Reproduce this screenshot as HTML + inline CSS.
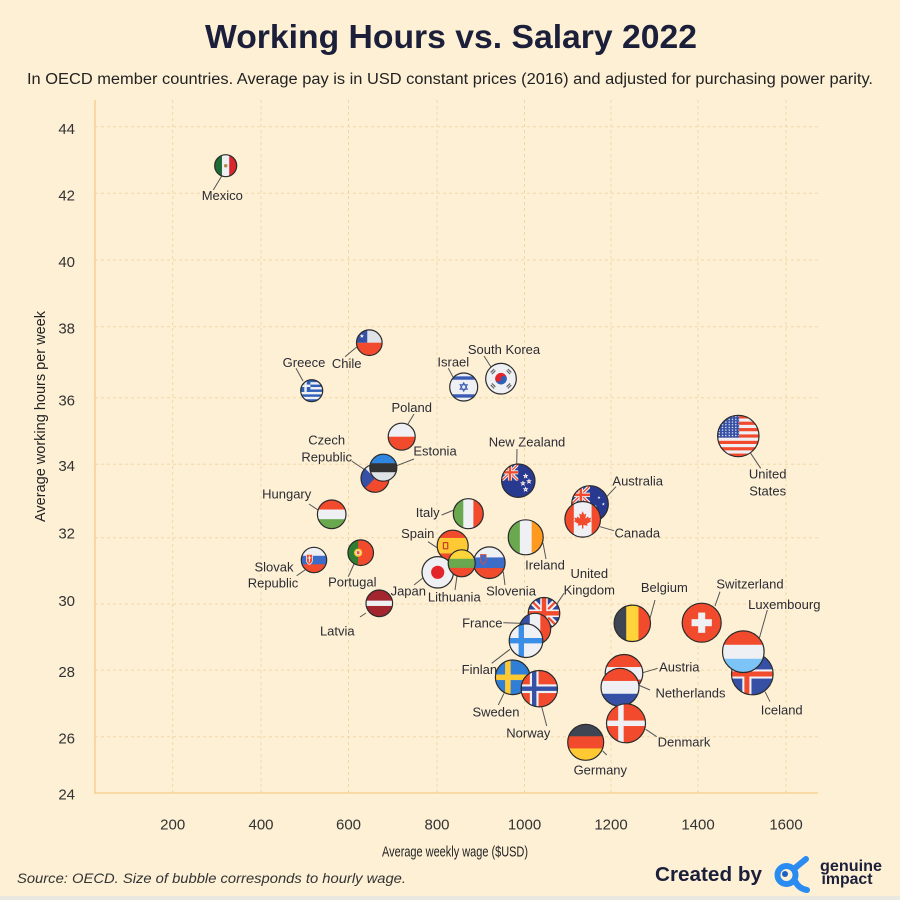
<!DOCTYPE html>
<html><head><meta charset="utf-8"><style>
html,body{margin:0;padding:0;background:#fdf0d5;}
svg{display:block;font-family:"Liberation Sans",sans-serif;}
.lb{font-size:13px;fill:#2b2b33;text-anchor:middle;}
.tk{font-size:15px;fill:#333;text-anchor:middle;}
.ty{font-size:15px;fill:#333;text-anchor:end;}
.ld{stroke:#555;stroke-width:1;fill:none;}
.bd{fill:none;stroke:#2b2b2b;stroke-width:1.2;}
</style></head><body>
<svg width="900" height="900" viewBox="0 0 900 900" xmlns="http://www.w3.org/2000/svg" xmlns:xlink="http://www.w3.org/1999/xlink">
<defs>
<clipPath id="cc" clipPathUnits="userSpaceOnUse"><circle cx="50" cy="50" r="50"/></clipPath>
<symbol id="star" viewBox="-1 -1 2 2"><polygon points="0,-1 0.225,-0.309 0.951,-0.309 0.363,0.118 0.588,0.809 0,0.382 -0.588,0.809 -0.363,0.118 -0.951,-0.309 -0.225,-0.309" fill="#fff"/></symbol>
<symbol id="rstar" viewBox="-1.3 -1.3 2.6 2.6"><polygon points="0,-1 0.225,-0.309 0.951,-0.309 0.363,0.118 0.588,0.809 0,0.382 -0.588,0.809 -0.363,0.118 -0.951,-0.309 -0.225,-0.309" fill="#f24a2c" stroke="#fff" stroke-width="0.35"/></symbol>
<symbol id="uj" viewBox="0 0 100 100"><rect width="100" height="100" fill="#2f4496"/><path d="M0,0L100,100M100,0L0,100" stroke="#eef0f3" stroke-width="20"/><path d="M0,0L100,100M100,0L0,100" stroke="#f24a2c" stroke-width="7"/><rect x="38" y="0" width="24" height="100" fill="#eef0f3"/><rect x="0" y="38" width="100" height="24" fill="#eef0f3"/><rect x="43" y="0" width="14" height="100" fill="#f24a2c"/><rect x="0" y="43" width="100" height="14" fill="#f24a2c"/></symbol>
<pattern id="usd" width="8" height="6.5" patternUnits="userSpaceOnUse"><circle cx="4" cy="3.2" r="1.7" fill="#fff"/></pattern>

<symbol id="f-mx" viewBox="0 0 100 100"><g clip-path="url(#cc)"><rect width="34" height="100" fill="#1e6b36"/><rect x="33" width="34" height="100" fill="#eef0f3"/><rect x="66" width="34" height="100" fill="#d8262d"/><circle cx="50" cy="50" r="8" fill="#b3894a"/></g></symbol>
<symbol id="f-cl" viewBox="0 0 100 100"><g clip-path="url(#cc)"><rect width="100" height="100" fill="#f24a2c"/><rect width="100" height="50" fill="#dfe2e6"/><rect width="42" height="50" fill="#3550a5"/><use href="#star" x="12" y="15" width="18" height="18"/></g></symbol>
<symbol id="f-gr" viewBox="0 0 100 100"><g clip-path="url(#cc)"><rect width="100" height="100" fill="#eef0f3"/><rect y="0" width="100" height="11.1" fill="#2f5fb8"/><rect y="22.2" width="100" height="11.1" fill="#2f5fb8"/><rect y="44.4" width="100" height="11.1" fill="#2f5fb8"/><rect y="66.6" width="100" height="11.1" fill="#2f5fb8"/><rect y="88.8" width="100" height="11.2" fill="#2f5fb8"/><rect width="44" height="55.5" fill="#2f5fb8"/><rect y="22.2" width="44" height="11.1" fill="#eef0f3"/><rect x="16.5" width="11" height="55.5" fill="#eef0f3"/></g></symbol>
<symbol id="f-il" viewBox="0 0 100 100"><g clip-path="url(#cc)"><rect width="100" height="100" fill="#eef0f3"/><rect y="12" width="100" height="12" fill="#3a5bb5"/><rect y="76" width="100" height="12" fill="#3a5bb5"/><polygon points="50,35 63,58 37,58" fill="none" stroke="#3a5bb5" stroke-width="3.5"/><polygon points="50,65 63,42 37,42" fill="none" stroke="#3a5bb5" stroke-width="3.5"/></g></symbol>
<symbol id="f-kr" viewBox="0 0 100 100"><g clip-path="url(#cc)"><rect width="100" height="100" fill="#eef0f3"/><path d="M31,50A19,19 0 0 1 69,50Z" fill="#e3242b"/><path d="M31,50A19,19 0 0 0 69,50Z" fill="#2f5fb8"/><circle cx="40.5" cy="50" r="9.5" fill="#e3242b"/><circle cx="59.5" cy="50" r="9.5" fill="#2f5fb8"/><g fill="#666"><rect x="14" y="22" width="16" height="4" transform="rotate(-45 22 24)"/><rect x="18" y="27" width="16" height="4" transform="rotate(-45 26 29)"/><rect x="70" y="22" width="16" height="4" transform="rotate(45 78 24)"/><rect x="66" y="27" width="16" height="4" transform="rotate(45 74 29)"/><rect x="14" y="74" width="16" height="4" transform="rotate(45 22 76)"/><rect x="18" y="69" width="16" height="4" transform="rotate(45 26 71)"/><rect x="70" y="74" width="16" height="4" transform="rotate(-45 78 76)"/><rect x="66" y="69" width="16" height="4" transform="rotate(-45 74 71)"/></g></g></symbol>
<symbol id="f-pl" viewBox="0 0 100 100"><g clip-path="url(#cc)"><rect width="100" height="100" fill="#f24a2c"/><rect width="100" height="50" fill="#eef0f3"/></g></symbol>
<symbol id="f-cz" viewBox="0 0 100 100"><g clip-path="url(#cc)"><rect width="100" height="100" fill="#f24a2c"/><rect width="100" height="50" fill="#eef0f3"/><polygon points="0,0 50,50 0,100" fill="#3550a5"/></g></symbol>
<symbol id="f-ee" viewBox="0 0 100 100"><g clip-path="url(#cc)"><rect width="100" height="100" fill="#dfe2e6"/><rect width="100" height="34" fill="#2f86e0"/><rect y="33.3" width="100" height="33.4" fill="#333"/></g></symbol>
<symbol id="f-nz" viewBox="0 0 100 100"><g clip-path="url(#cc)"><rect width="100" height="100" fill="#283a8f"/><use href="#uj" x="0" y="0" width="50" height="50"/><use href="#rstar" x="64" y="28" width="16" height="16"/><use href="#rstar" x="74" y="44" width="16" height="16"/><use href="#rstar" x="56" y="50" width="16" height="16"/><use href="#rstar" x="64" y="68" width="16" height="16"/></g></symbol>
<symbol id="f-hu" viewBox="0 0 100 100"><g clip-path="url(#cc)"><rect width="100" height="100" fill="#6aa84f"/><rect width="100" height="67" fill="#eef0f3"/><rect width="100" height="33.3" fill="#f24a2c"/></g></symbol>
<symbol id="f-it" viewBox="0 0 100 100"><g clip-path="url(#cc)"><rect width="100" height="100" fill="#f24a2c"/><rect width="67" height="100" fill="#eef0f3"/><rect width="33.3" height="100" fill="#6aa84f"/></g></symbol>
<symbol id="f-au" viewBox="0 0 100 100"><g clip-path="url(#cc)"><rect width="100" height="100" fill="#283a8f"/><use href="#uj" x="0" y="0" width="50" height="50"/><use href="#star" x="15" y="62" width="18" height="18"/><use href="#star" x="70" y="28" width="9" height="9"/><use href="#star" x="82" y="46" width="9" height="9"/><use href="#star" x="60" y="52" width="9" height="9"/><use href="#star" x="70" y="76" width="10" height="10"/></g></symbol>
<symbol id="f-ca" viewBox="0 0 100 100"><g clip-path="url(#cc)"><rect width="100" height="100" fill="#eef0f3"/><rect width="25" height="100" fill="#f24a2c"/><rect x="75" width="25" height="100" fill="#f24a2c"/><polygon points="50,27 54,37 60,34 57,48 65,42 67,47 74,45 71,53 75,55 62,63 64,68 52,66 52,76 48,76 48,66 36,68 38,63 25,55 29,53 26,45 33,47 35,42 43,48 40,34 46,37" fill="#f24a2c"/></g></symbol>
<symbol id="f-us" viewBox="0 0 100 100"><g clip-path="url(#cc)"><rect width="100" height="100" fill="#eef0f3"/><g fill="#f24a2c"><rect y="0" width="100" height="7.7"/><rect y="15.4" width="100" height="7.7"/><rect y="30.8" width="100" height="7.7"/><rect y="46.2" width="100" height="7.7"/><rect y="61.6" width="100" height="7.7"/><rect y="77" width="100" height="7.7"/><rect y="92.4" width="100" height="7.7"/></g><rect width="52" height="54" fill="#3550a5"/><rect width="52" height="54" fill="url(#usd)"/></g></symbol>
<symbol id="f-ie" viewBox="0 0 100 100"><g clip-path="url(#cc)"><rect width="100" height="100" fill="#ff9a1f"/><rect width="67" height="100" fill="#eef0f3"/><rect width="33.3" height="100" fill="#6aa84f"/></g></symbol>
<symbol id="f-es" viewBox="0 0 100 100"><g clip-path="url(#cc)"><rect width="100" height="100" fill="#f24a2c"/><rect y="25" width="100" height="50" fill="#ffc933"/><rect x="18" y="38" width="18" height="24" rx="3" fill="#c8412a"/><rect x="22" y="42" width="10" height="16" fill="#ffc933"/></g></symbol>
<symbol id="f-sk" viewBox="0 0 100 100"><g clip-path="url(#cc)"><rect width="100" height="100" fill="#f24a2c"/><rect width="100" height="67" fill="#3a6cc8"/><rect width="100" height="33.3" fill="#eef0f3"/><path d="M20,28H44V50Q44,62 32,68Q20,62 20,50Z" fill="#f24a2c" stroke="#eef0f3" stroke-width="3"/><rect x="30" y="33" width="4" height="26" fill="#eef0f3"/><rect x="25" y="40" width="14" height="4" fill="#eef0f3"/></g></symbol>
<symbol id="f-pt" viewBox="0 0 100 100"><g clip-path="url(#cc)"><rect width="100" height="100" fill="#f24a2c"/><rect width="40" height="100" fill="#2e7d32"/><circle cx="40" cy="50" r="16" fill="#ffc933"/><circle cx="40" cy="50" r="10" fill="#eef0f3"/><rect x="35" y="44" width="10" height="12" fill="#f24a2c"/></g></symbol>
<symbol id="f-jp" viewBox="0 0 100 100"><g clip-path="url(#cc)"><rect width="100" height="100" fill="#eef0f3"/><circle cx="50" cy="50" r="21" fill="#e3242b"/></g></symbol>
<symbol id="f-lt" viewBox="0 0 100 100"><g clip-path="url(#cc)"><rect width="100" height="100" fill="#f24a2c"/><rect width="100" height="67" fill="#6aa84f"/><rect width="100" height="33.3" fill="#ffd43a"/></g></symbol>
<symbol id="f-si" viewBox="0 0 100 100"><g clip-path="url(#cc)"><rect width="100" height="100" fill="#f24a2c"/><rect width="100" height="67" fill="#3a6cc8"/><rect width="100" height="33.3" fill="#eef0f3"/><path d="M22,24H40V40Q40,50 31,54Q22,50 22,40Z" fill="#3a6cc8" stroke="#f24a2c" stroke-width="2.5"/></g></symbol>
<symbol id="f-lv" viewBox="0 0 100 100"><g clip-path="url(#cc)"><rect width="100" height="100" fill="#a3262f"/><rect y="40" width="100" height="20" fill="#eef0f3"/></g></symbol>
<symbol id="f-uk" viewBox="0 0 100 100"><g clip-path="url(#cc)"><use href="#uj" x="0" y="0" width="100" height="100"/></g></symbol>
<symbol id="f-fr" viewBox="0 0 100 100"><g clip-path="url(#cc)"><rect width="100" height="100" fill="#f24a2c"/><rect width="67" height="100" fill="#eef0f3"/><rect width="33.3" height="100" fill="#3550a5"/></g></symbol>
<symbol id="f-fi" viewBox="0 0 100 100"><g clip-path="url(#cc)"><rect width="100" height="100" fill="#eef0f3"/><rect x="28" width="16" height="100" fill="#3a8ee6"/><rect y="42" width="100" height="16" fill="#3a8ee6"/></g></symbol>
<symbol id="f-se" viewBox="0 0 100 100"><g clip-path="url(#cc)"><rect width="100" height="100" fill="#2f7fd6"/><rect x="28" width="16" height="100" fill="#ffc933"/><rect y="42" width="100" height="16" fill="#ffc933"/></g></symbol>
<symbol id="f-no" viewBox="0 0 100 100"><g clip-path="url(#cc)"><rect width="100" height="100" fill="#f24a2c"/><rect x="24" width="24" height="100" fill="#eef0f3"/><rect y="38" width="100" height="24" fill="#eef0f3"/><rect x="30" width="12" height="100" fill="#3550a5"/><rect y="44" width="100" height="12" fill="#3550a5"/></g></symbol>
<symbol id="f-be" viewBox="0 0 100 100"><g clip-path="url(#cc)"><rect width="100" height="100" fill="#f24a2c"/><rect width="67" height="100" fill="#ffd43a"/><rect width="33.3" height="100" fill="#3d4652"/></g></symbol>
<symbol id="f-ch" viewBox="0 0 100 100"><g clip-path="url(#cc)"><rect width="100" height="100" fill="#f24a2c"/><rect x="41" y="24" width="18" height="52" fill="#eef0f3"/><rect x="24" y="41" width="52" height="18" fill="#eef0f3"/></g></symbol>
<symbol id="f-lu" viewBox="0 0 100 100"><g clip-path="url(#cc)"><rect width="100" height="100" fill="#7cc4f7"/><rect width="100" height="67" fill="#eef0f3"/><rect width="100" height="33.3" fill="#f24a2c"/></g></symbol>
<symbol id="f-is" viewBox="0 0 100 100"><g clip-path="url(#cc)"><rect width="100" height="100" fill="#3550a5"/><rect x="26" width="22" height="100" fill="#eef0f3"/><rect y="39" width="100" height="22" fill="#eef0f3"/><rect x="31" width="12" height="100" fill="#f24a2c"/><rect y="44" width="100" height="12" fill="#f24a2c"/></g></symbol>
<symbol id="f-at" viewBox="0 0 100 100"><g clip-path="url(#cc)"><rect width="100" height="100" fill="#f24a2c"/><rect y="33.3" width="100" height="33.4" fill="#eef0f3"/></g></symbol>
<symbol id="f-nl" viewBox="0 0 100 100"><g clip-path="url(#cc)"><rect width="100" height="100" fill="#3550a5"/><rect width="100" height="67" fill="#eef0f3"/><rect width="100" height="33.3" fill="#f24a2c"/></g></symbol>
<symbol id="f-dk" viewBox="0 0 100 100"><g clip-path="url(#cc)"><rect width="100" height="100" fill="#f24a2c"/><rect x="30" width="14" height="100" fill="#eef0f3"/><rect y="43" width="100" height="14" fill="#eef0f3"/></g></symbol>
<symbol id="f-de" viewBox="0 0 100 100"><g clip-path="url(#cc)"><rect width="100" height="100" fill="#ffc933"/><rect width="100" height="67" fill="#f24a2c"/><rect width="100" height="33.3" fill="#3d4652"/></g></symbol>
</defs>

<rect width="900" height="900" fill="#fdf0d5"/>
<rect y="896" width="900" height="4" fill="#ebe8e2"/>

<text x="451" y="48" font-size="33" font-weight="bold" fill="#1c1f3a" text-anchor="middle" textLength="492" lengthAdjust="spacingAndGlyphs">Working Hours vs. Salary 2022</text>
<text x="450" y="84" font-size="15.5" fill="#222" text-anchor="middle" textLength="846" lengthAdjust="spacingAndGlyphs">In OECD member countries. Average pay is in USD constant prices (2016) and adjusted for purchasing power parity.</text>

<!-- grid -->
<g stroke="#f2d7a6" stroke-width="1" stroke-dasharray="3,3">
<line x1="172.7" y1="100" x2="172.7" y2="793"/><line x1="261" y1="100" x2="261" y2="793"/><line x1="348.5" y1="100" x2="348.5" y2="793"/><line x1="437" y1="100" x2="437" y2="793"/><line x1="524.5" y1="100" x2="524.5" y2="793"/><line x1="611" y1="100" x2="611" y2="793"/><line x1="698" y1="100" x2="698" y2="793"/><line x1="786" y1="100" x2="786" y2="793"/>
<line x1="95" y1="126.7" x2="818" y2="126.7"/><line x1="95" y1="193.3" x2="818" y2="193.3"/><line x1="95" y1="260" x2="818" y2="260"/><line x1="95" y1="326.7" x2="818" y2="326.7"/><line x1="95" y1="397.7" x2="818" y2="397.7"/><line x1="95" y1="464.3" x2="818" y2="464.3"/><line x1="95" y1="537.7" x2="818" y2="537.7"/><line x1="95" y1="604" x2="818" y2="604"/><line x1="95" y1="670" x2="818" y2="670"/><line x1="95" y1="736.7" x2="818" y2="736.7"/>
</g>
<line x1="95" y1="100" x2="95" y2="793.5" stroke="#f6d396" stroke-width="1.6"/>
<line x1="94.2" y1="793" x2="818" y2="793" stroke="#f6d396" stroke-width="1.6"/>

<!-- y ticks -->
<text class="ty" x="75" y="134">44</text><text class="ty" x="75" y="200.5">42</text><text class="ty" x="75" y="267">40</text><text class="ty" x="75" y="333.5">38</text><text class="ty" x="75" y="405.5">36</text><text class="ty" x="75" y="471">34</text><text class="ty" x="75" y="538.5">32</text><text class="ty" x="75" y="606">30</text><text class="ty" x="75" y="677">28</text><text class="ty" x="75" y="743.5">26</text><text class="ty" x="75" y="799.5">24</text>
<!-- x ticks -->
<text class="tk" x="172.7" y="829.5">200</text><text class="tk" x="261" y="829.5">400</text><text class="tk" x="348.5" y="829.5">600</text><text class="tk" x="437" y="829.5">800</text><text class="tk" x="524.5" y="829.5">1000</text><text class="tk" x="611" y="829.5">1200</text><text class="tk" x="698" y="829.5">1400</text><text class="tk" x="786" y="829.5">1600</text>

<text x="455" y="856.5" font-size="15" fill="#222" text-anchor="middle" textLength="146" lengthAdjust="spacingAndGlyphs">Average weekly wage ($USD)</text>
<text transform="translate(45,416.5) rotate(-90)" font-size="14.5" fill="#222" text-anchor="middle" textLength="211" lengthAdjust="spacingAndGlyphs">Average working hours per week</text>

<!-- leader lines -->
<g class="ld">
<line x1="221.7" y1="176" x2="213.3" y2="190"/>
<line x1="345" y1="356.7" x2="358" y2="346"/>
<line x1="296" y1="368.3" x2="303" y2="381"/>
<line x1="448.3" y1="368.3" x2="453" y2="377"/>
<line x1="484" y1="356" x2="491" y2="367"/>
<line x1="408" y1="424" x2="414" y2="414"/>
<line x1="351.7" y1="461" x2="365" y2="470"/>
<line x1="396.7" y1="465.7" x2="414" y2="459"/>
<line x1="517" y1="449" x2="516.7" y2="464"/>
<line x1="309" y1="504" x2="318" y2="510"/>
<line x1="441.7" y1="515" x2="454" y2="510"/>
<line x1="616" y1="486.7" x2="606.7" y2="496.7"/>
<line x1="600" y1="526.7" x2="614" y2="530.7"/>
<line x1="750.7" y1="453.3" x2="760.7" y2="468.3"/>
<line x1="543" y1="543" x2="546" y2="559"/>
<line x1="428" y1="541.7" x2="438" y2="548.3"/>
<line x1="296.7" y1="575.7" x2="305" y2="570"/>
<line x1="348.3" y1="576.7" x2="354" y2="564"/>
<line x1="414" y1="585" x2="424" y2="577"/>
<line x1="455" y1="590" x2="457" y2="576"/>
<line x1="505" y1="585" x2="503.3" y2="571.7"/>
<line x1="366" y1="613" x2="360" y2="617"/>
<line x1="564" y1="593.3" x2="555" y2="606.7"/>
<line x1="503.3" y1="622.7" x2="520" y2="623.3"/>
<line x1="491.7" y1="663.3" x2="510" y2="649.3"/>
<line x1="498.3" y1="705" x2="504" y2="693.3"/>
<line x1="546.7" y1="726" x2="541.7" y2="706.7"/>
<line x1="655" y1="600" x2="650" y2="618.3"/>
<line x1="720" y1="591.7" x2="715" y2="606"/>
<line x1="767.3" y1="610" x2="759.3" y2="638.3"/>
<line x1="770" y1="701.7" x2="765" y2="691.7"/>
<line x1="657.7" y1="668.3" x2="642.7" y2="672.7"/>
<line x1="638.3" y1="685" x2="650" y2="690"/>
<line x1="645.7" y1="729.3" x2="656.7" y2="736.7"/>
<line x1="602.7" y1="751" x2="606.7" y2="755"/>
</g>

<!-- labels -->
<g class="lb">
<text x="222.3" y="200">Mexico</text>
<text x="346.7" y="368">Chile</text>
<text x="304" y="367">Greece</text>
<text x="453.3" y="366.5">Israel</text>
<text x="504" y="354">South Korea</text>
<text x="411.7" y="412">Poland</text>
<text x="326.7" y="444.7">Czech</text>
<text x="326.7" y="461.4">Republic</text>
<text x="435" y="455.7">Estonia</text>
<text x="527" y="446.4">New Zealand</text>
<text x="286.7" y="498.7">Hungary</text>
<text x="427.7" y="517">Italy</text>
<text x="637.7" y="485.4">Australia</text>
<text x="637.3" y="537.4">Canada</text>
<text x="767.7" y="478.7">United</text>
<text x="767.7" y="495.4">States</text>
<text x="545" y="569.7">Ireland</text>
<text x="417.7" y="538">Spain</text>
<text x="274" y="571.4">Slovak</text>
<text x="273" y="587.4">Republic</text>
<text x="352.3" y="586.7">Portugal</text>
<text x="408.3" y="595.4">Japan</text>
<text x="454.3" y="601.4">Lithuania</text>
<text x="511" y="595.7">Slovenia</text>
<text x="337.3" y="635.4">Latvia</text>
<text x="589.3" y="578">United</text>
<text x="589.3" y="594.7">Kingdom</text>
<text x="482.3" y="627.4">France</text>
<text x="483" y="674">Finland</text>
<text x="496" y="716.4">Sweden</text>
<text x="528.3" y="737.4">Norway</text>
<text x="664.3" y="592">Belgium</text>
<text x="750" y="588.7">Switzerland</text>
<text x="784.3" y="609">Luxembourg</text>
<text x="781.7" y="714.7">Iceland</text>
<text x="679.3" y="671.4">Austria</text>
<text x="690.5" y="697.4">Netherlands</text>
<text x="684" y="746.4">Denmark</text>
<text x="600.3" y="774.7">Germany</text>
</g>

<!-- bubbles -->
<use href="#f-mx" x="214.7" y="154.7" width="22" height="22"/><circle class="bd" cx="225.7" cy="165.7" r="11"/>
<use href="#f-cl" x="356.5" y="329.9" width="25.6" height="25.6"/><circle class="bd" cx="369.3" cy="342.7" r="12.8"/>
<use href="#f-gr" x="300.7" y="379.7" width="22" height="22"/><circle class="bd" cx="311.7" cy="390.7" r="11"/>
<use href="#f-il" x="449.7" y="373" width="28" height="28"/><circle class="bd" cx="463.7" cy="387" r="14"/>
<use href="#f-kr" x="485.7" y="363.4" width="30.6" height="30.6"/><circle class="bd" cx="501" cy="378.7" r="15.3"/>
<use href="#f-pl" x="388.2" y="423.2" width="27" height="27"/><circle class="bd" cx="401.7" cy="436.7" r="13.5"/>
<use href="#f-cz" x="361" y="464.3" width="28" height="28"/><circle class="bd" cx="375" cy="478.3" r="14"/>
<use href="#f-ee" x="369.8" y="454.2" width="27" height="27"/><circle class="bd" cx="383.3" cy="467.7" r="13.5"/>
<use href="#f-nz" x="501.6" y="464" width="33.4" height="33.4"/><circle class="bd" cx="518.3" cy="480.7" r="16.7"/>
<use href="#f-hu" x="317.4" y="500" width="28.6" height="28.6"/><circle class="bd" cx="331.7" cy="514.3" r="14.3"/>
<use href="#f-it" x="453.3" y="498.7" width="30" height="30"/><circle class="bd" cx="468.3" cy="513.7" r="15"/>
<use href="#f-us" x="717.6" y="415.3" width="41.4" height="41.4"/><circle class="bd" cx="738.3" cy="436" r="20.7"/>
<use href="#f-au" x="571.7" y="485.7" width="36.6" height="36.6"/><circle class="bd" cx="590" cy="504" r="18.3"/>
<use href="#f-ca" x="564.9" y="501.5" width="35.6" height="35.6"/><circle class="bd" cx="582.7" cy="519.3" r="17.8"/>
<use href="#f-ie" x="508.2" y="519.8" width="35" height="35"/><circle class="bd" cx="525.7" cy="537.3" r="17.5"/>
<use href="#f-es" x="437.2" y="530.2" width="31" height="31"/><circle class="bd" cx="452.7" cy="545.7" r="15.5"/>
<use href="#f-sk" x="301.3" y="547.3" width="25.4" height="25.4"/><circle class="bd" cx="314" cy="560" r="12.7"/>
<use href="#f-pt" x="347.9" y="539.9" width="25.6" height="25.6"/><circle class="bd" cx="360.7" cy="552.7" r="12.8"/>
<use href="#f-jp" x="422" y="556.6" width="31.4" height="31.4"/><circle class="bd" cx="437.7" cy="572.3" r="15.7"/>
<use href="#f-si" x="473.5" y="546.9" width="31.6" height="31.6"/><circle class="bd" cx="489.3" cy="562.7" r="15.8"/>
<use href="#f-lt" x="448.2" y="549.8" width="27" height="27"/><circle class="bd" cx="461.7" cy="563.3" r="13.5"/>
<use href="#f-lv" x="366" y="590" width="26.6" height="26.6"/><circle class="bd" cx="379.3" cy="603.3" r="13.3"/>
<use href="#f-uk" x="528.2" y="597.5" width="31.6" height="31.6"/><circle class="bd" cx="544" cy="613.3" r="15.8"/>
<use href="#f-fr" x="519.3" y="613.3" width="31.4" height="31.4"/><circle class="bd" cx="535" cy="629" r="15.7"/>
<use href="#f-fi" x="509.2" y="623.9" width="33.6" height="33.6"/><circle class="bd" cx="526" cy="640.7" r="16.8"/>
<use href="#f-se" x="495.4" y="660" width="34.6" height="34.6"/><circle class="bd" cx="512.7" cy="677.3" r="17.3"/>
<use href="#f-no" x="521.1" y="670.5" width="36.4" height="36.4"/><circle class="bd" cx="539.3" cy="688.7" r="18.2"/>
<use href="#f-be" x="614.1" y="605.1" width="36.4" height="36.4"/><circle class="bd" cx="632.3" cy="623.3" r="18.2"/>
<use href="#f-ch" x="682.2" y="603.2" width="39" height="39"/><circle class="bd" cx="701.7" cy="622.7" r="19.5"/>
<use href="#f-is" x="731.5" y="653.2" width="41.6" height="41.6"/><circle class="bd" cx="752.3" cy="674" r="20.8"/>
<use href="#f-lu" x="722.5" y="630.9" width="41.6" height="41.6"/><circle class="bd" cx="743.3" cy="651.7" r="20.8"/>
<use href="#f-at" x="605.2" y="654.5" width="37.6" height="37.6"/><circle class="bd" cx="624" cy="673.3" r="18.8"/>
<use href="#f-nl" x="601" y="668.3" width="38" height="38"/><circle class="bd" cx="620" cy="687.3" r="19"/>
<use href="#f-dk" x="606.5" y="703.8" width="39" height="39"/><circle class="bd" cx="626" cy="723.3" r="19.5"/>
<use href="#f-de" x="567.7" y="724.3" width="36" height="36"/><circle class="bd" cx="585.7" cy="742.3" r="18"/>

<!-- footer -->
<text x="17" y="883" font-size="14" font-style="italic" fill="#333" textLength="389" lengthAdjust="spacingAndGlyphs">Source: OECD. Size of bubble corresponds to hourly wage.</text>
<text x="655" y="881" font-size="20" font-weight="bold" fill="#1c1f3a" textLength="107" lengthAdjust="spacingAndGlyphs">Created by</text>
<g fill="none" stroke="#2a8cf0" stroke-linecap="round">
<circle cx="786.5" cy="875" r="9" stroke-width="6"/>
<path d="M795,868 L806,859" stroke-width="6"/>
<path d="M795,881 Q799,889 807,890" stroke-width="6"/>
</g>
<circle cx="785" cy="874" r="3" fill="#1d5fc2"/>
<text x="820" y="871" font-size="16" font-weight="bold" fill="#1c1f3a" textLength="62" lengthAdjust="spacingAndGlyphs">genuine</text>
<text x="821.5" y="884" font-size="16" font-weight="bold" fill="#1c1f3a" textLength="51" lengthAdjust="spacingAndGlyphs">impact</text>
</svg>
</body></html>
